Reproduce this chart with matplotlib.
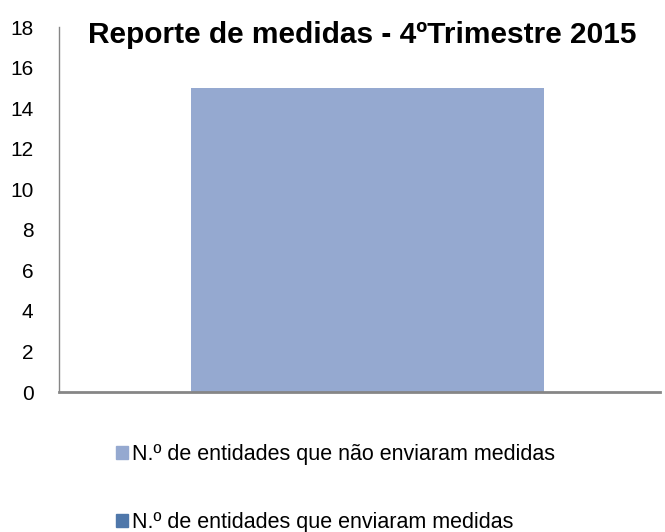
import matplotlib
matplotlib.use("Agg")
import matplotlib.pyplot as plt
from matplotlib.patches import Patch

# Data
categories = [""]
series_names = ["N.º de entidades que não enviaram medidas",
                "N.º de entidades que enviaram medidas"]
nao_enviaram = [15]
enviaram = [0]
colors = ["#95A9D0", "#4F77AA"]
y_ticks = [0, 2, 4, 6, 8, 10, 12, 14, 16, 18]

plt.rcParams['font.family'] = ['Liberation Sans', 'DejaVu Sans']

fig = plt.figure(figsize=(6.65, 5.32), dpi=100)
ax = fig.add_axes([0.089, 0.263, 0.903, 0.686])

x = list(range(len(categories)))
ax.bar(x, nao_enviaram, width=1.0, color=colors[0])
ax.bar(x, enviaram, width=1.0, bottom=nao_enviaram, color=colors[1])

ax.set_xlim(-0.874, 0.829)
ax.set_ylim(0, 18)
ax.set_yticks(y_ticks)
ax.set_yticklabels([str(v) for v in y_ticks], fontsize=15)
ax.set_xticks([])
ax.tick_params(axis='y', length=0, pad=18.5)

for s in ['top', 'right']:
    ax.spines[s].set_visible(False)
ax.spines['left'].set_color('#868686')
ax.spines['left'].set_linewidth(1.0)
ax.spines['bottom'].set_color('#868686')
ax.spines['bottom'].set_linewidth(2.0)

fig.text(0.545, 0.935, "Reporte de medidas - 4ºTrimestre 2015",
         ha='center', va='center', fontsize=21.5, fontweight='bold')

handles = [Patch(color=c) for c in colors]
fig.legend(handles, series_names, loc='center left',
           bbox_to_anchor=(0.145, 0.082), frameon=False, fontsize=15.5,
           handlelength=0.55, handleheight=0.55, handletextpad=0.2,
           labelspacing=2.2)

fig.savefig("out.png", dpi=100)
